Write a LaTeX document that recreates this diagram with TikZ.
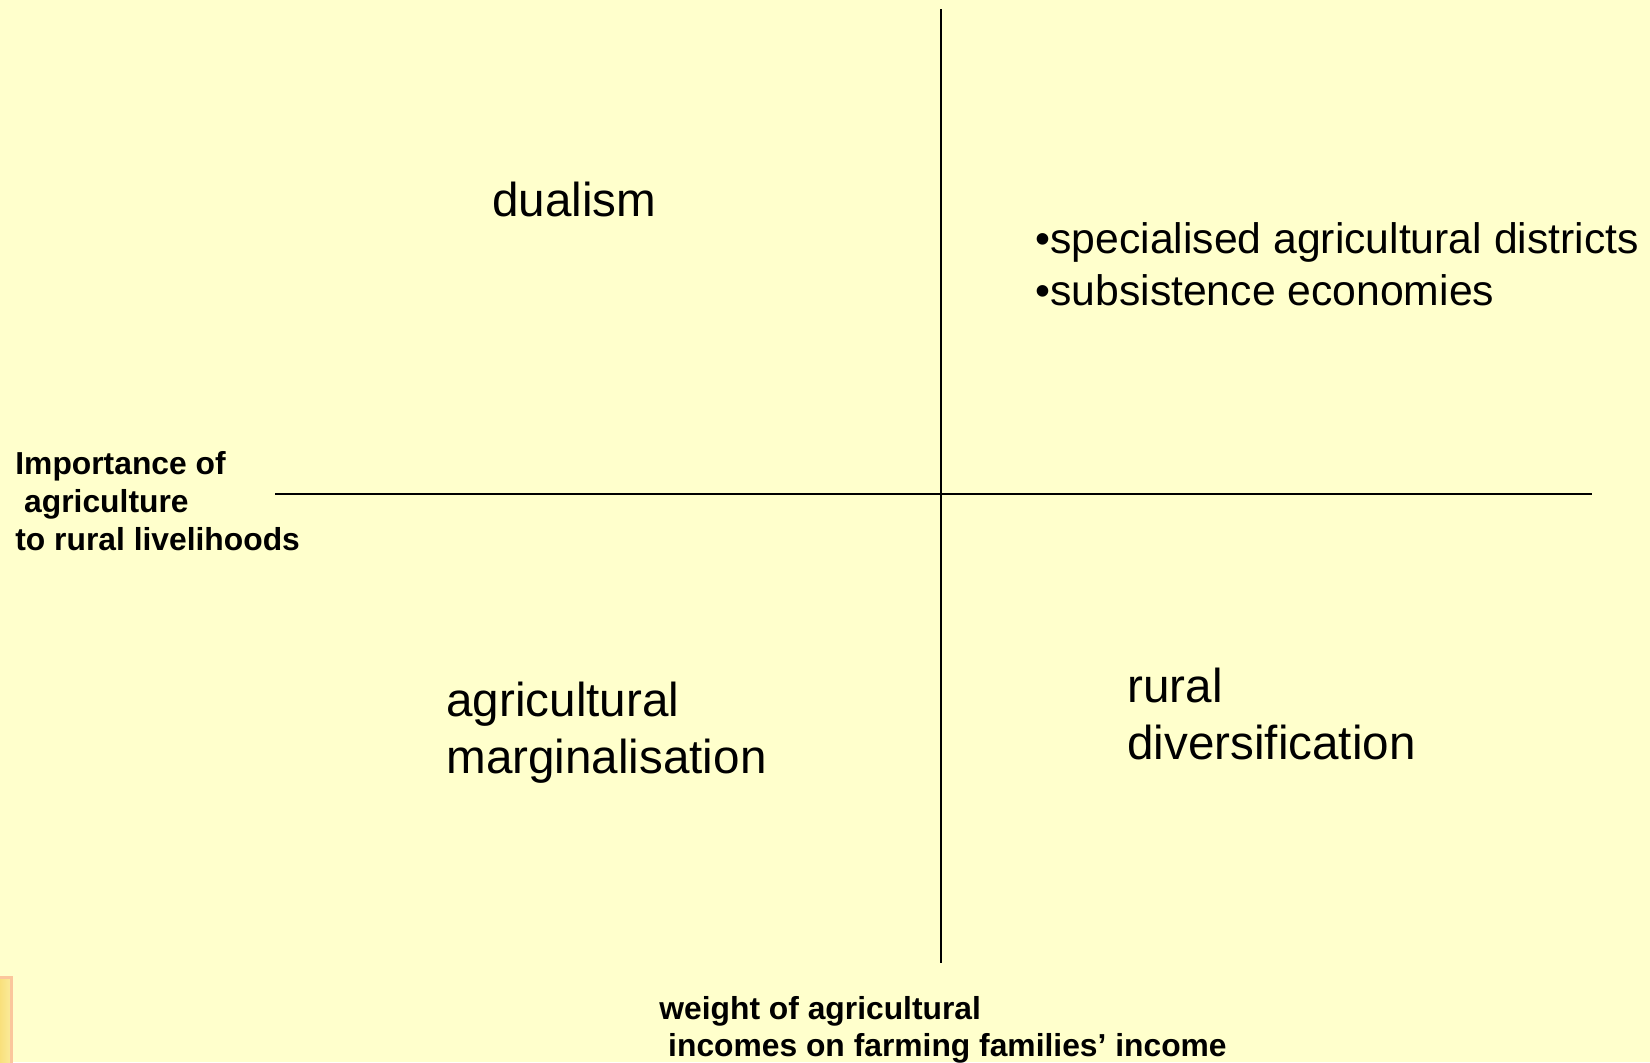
\documentclass[tikz,border=0pt]{standalone}
\usepackage{fontspec}
\setmainfont{Liberation Sans}
\definecolor{slidebg}{HTML}{FFFFCC}
\definecolor{tabedge}{HTML}{FBC69C}
\definecolor{tabfill}{HTML}{F6D561}

\begin{document}
\begin{tikzpicture}[x=0.5pt,y=-0.5pt,
		quad node/.style={anchor=base west,inner sep=0pt,align=left,font=\fontsize{23.8}{28.5}\selectfont},
		list node/.style={quad node,font=\fontsize{21.35}{26}\selectfont},
		axis node/.style={anchor=base west,inner sep=0pt,align=left,font=\fontsize{15.9}{19}\selectfont\bfseries}]
		
		\fill[slidebg] (0,0) rectangle (1650,1062);
		\useasboundingbox (0,0) rectangle (1650,1062);
		\shade[left color=tabfill,right color=tabfill!45!slidebg,draw=tabedge,line width=1.5pt] (-10,977) rectangle (11.5,1075);
		
		\coordinate (top) at (941,9);
		\coordinate (bottom) at (941,963);
		\coordinate (left) at (275,493.5);
		\coordinate (right) at (1592,493.5);
		
		\draw[line width=1pt] (top) -- (bottom);
		\draw[line width=1pt] (left) -- (right);
		
		% multi-line nodes sit on their last baseline
		\node[quad node] (dual) at (492,216) {dualism};
		\node[list node] (spec) at (1035,305) {•specialised agricultural districts\\•subsistence economies};
		\node[quad node] (marg) at (446,773) {agricultural\\marginalisation};
		\node[quad node] (div) at (1127,759) {rural\\diversification};
		
		\node[axis node] (imp) at (15,550) {Importance of\\\hspace*{0.278em}agriculture\\to rural livelihoods};
		\node[axis node,font=\fontsize{15.9}{18.5}\selectfont\bfseries] (wgt) at (659,1056) {weight of agricultural\\\hspace*{0.278em}incomes on farming families’ income};
		\end{tikzpicture}
\end{document}
